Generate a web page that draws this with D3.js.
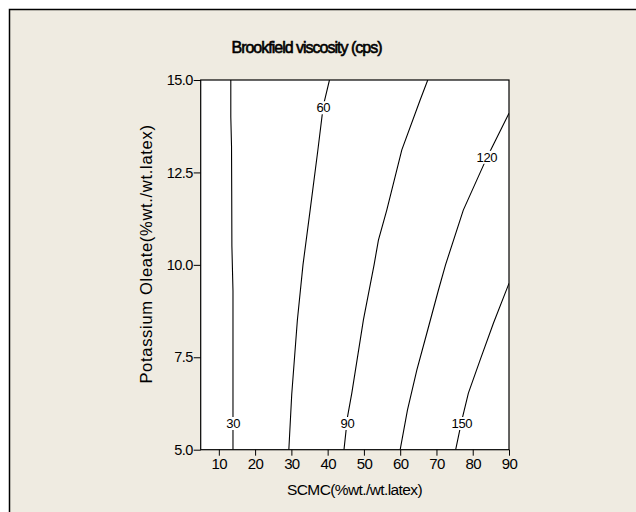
<!DOCTYPE html>
<html>
<head>
<meta charset="utf-8">
<script src="https://cdn.jsdelivr.net/npm/d3@7"></script>
<style>
  html, body { margin: 0; padding: 0; background: #ffffff; }
  svg { display: block; }
  text { font-family: Arial, "Liberation Sans", sans-serif; fill: #000; }
</style>
</head>
<body>
<svg id="chart" width="636" height="512"></svg>
<script>
// ---- data ----
const chartTitle = "Brookfield viscosity (cps)";
const xTitle = "SCMC(%wt./wt.latex)";
const yTitle = "Potassium Oleate(%wt./wt.latex)";
const xDomain = [5, 90];
const yDomain = [5, 15];
const xTicks = [10, 20, 30, 40, 50, 60, 70, 80, 90];
const yTicks = [5, 7.5, 10, 12.5, 15];

const contourLevels = [30, 60, 90, 120, 150];
// contour polylines: [SCMC, Potassium Oleate]
const contour30 = [[13.3,15],[13.3,14.0],[13.5,13.2],[13.55,12],[13.6,10.5],[13.9,9.3],[13.9,7],[13.9,5]];
const contour60 = [[40.5,15],[38.8,14.3],[37.3,13.1],[35.2,11.5],[33.2,10.0],[31.65,8.5],[30.1,6.5],[29.3,5]];
const contour90 = [[67.6,15],[65.5,14.46],[60.45,13.11],[56.3,11.48],[54.0,10.67],[52.8,10.0],[49.86,8.51],[46.66,6.53],[45.5,5.9],[44.5,5]];
const contour120 = [[90,14.1],[83.9,12.9],[77.4,11.48],[72.5,10.0],[70.55,9.32],[67.34,8.15],[64.6,7.16],[62.0,6.07],[60,5]];
const contour150 = [[90,9.5],[85.7,8.42],[82.05,7.43],[78.8,6.53],[77,5.8],[75.3,5]];
const contourLines = [contour30, contour60, contour90, contour120, contour150];
// label anchor positions [SCMC, Potassium Oleate]
const labelPositions = [[13.95,5.71],[38.8,14.25],[45.45,5.71],[83.9,12.91],[77.0,5.71]];

// ---- layout ----
const svg = d3.select("#chart");
const W = 636, H = 512;
const plot = { left: 200.7, right: 509, top: 80, bottom: 449.7 };

// background panel with border (top/left)
svg.append("rect").attr("x", 0).attr("y", 0).attr("width", W).attr("height", H).attr("fill", "#ffffff");
svg.append("rect").attr("x", 9.5).attr("y", 9.5).attr("width", W).attr("height", H).attr("fill", "#efebe1");
svg.append("path").attr("d", `M9.5,${H} V9.5 H${W}`).attr("fill", "none").attr("stroke", "#000").attr("stroke-width", 1.5);

const x = d3.scaleLinear().domain(xDomain).range([plot.left, plot.right]);
const y = d3.scaleLinear().domain(yDomain).range([plot.bottom, plot.top]);

// plot area
svg.append("rect")
  .attr("x", plot.left).attr("y", plot.top)
  .attr("width", plot.right - plot.left).attr("height", plot.bottom - plot.top)
  .attr("fill", "#ffffff");

// axes
const xAxis = svg.append("g")
  .attr("transform", `translate(0,${plot.bottom})`)
  .call(d3.axisBottom(x).tickValues(xTicks).tickSize(6).tickPadding(3).tickFormat(d3.format("d")));
xAxis.select(".domain").remove();
xAxis.selectAll("line").attr("stroke", "#000");
xAxis.selectAll("text").attr("font-size", 15).attr("font-family", "Arial, 'Liberation Sans', sans-serif").attr("letter-spacing", -0.6);

const yAxis = svg.append("g")
  .attr("transform", `translate(${plot.left},0)`)
  .call(d3.axisLeft(y).tickValues(yTicks).tickSize(7).tickPadding(1).tickFormat(d3.format(".1f")));
yAxis.select(".domain").remove();
yAxis.selectAll("line").attr("stroke", "#000");
yAxis.selectAll("text").attr("font-size", 14.5).attr("font-family", "Arial, 'Liberation Sans', sans-serif").attr("letter-spacing", -0.6);

// contour lines
const line = d3.line().x(d => x(d[0])).y(d => y(d[1]));
const clipId = "plotclip";
svg.append("clipPath").attr("id", clipId).append("rect")
  .attr("x", plot.left).attr("y", plot.top)
  .attr("width", plot.right - plot.left).attr("height", plot.bottom - plot.top);

const gLines = svg.append("g").attr("clip-path", `url(#${clipId})`);
gLines.selectAll("path").data(contourLines).join("path")
  .attr("d", line)
  .attr("fill", "none")
  .attr("stroke", "#000")
  .attr("stroke-width", 1.1);

// contour labels with white knockout
const gLab = svg.append("g");
contourLevels.forEach((lev, i) => {
  const p = labelPositions[i];
  const t = gLab.append("text")
    .attr("x", x(p[0])).attr("y", y(p[1]))
    .attr("text-anchor", "middle").attr("dy", "0.35em")
    .attr("font-size", 13).attr("letter-spacing", -0.4)
    .text(lev);
  const bb = t.node().getBBox();
  gLab.insert("rect", "text")
    .attr("x", bb.x - 1).attr("y", bb.y + 1)
    .attr("width", bb.width + 2).attr("height", bb.height - 2)
    .attr("fill", "#ffffff");
});
gLab.selectAll("text").raise();

// plot frame
svg.append("rect")
  .attr("x", plot.left).attr("y", plot.top)
  .attr("width", plot.right - plot.left).attr("height", plot.bottom - plot.top)
  .attr("fill", "none").attr("stroke", "#000").attr("stroke-width", 1.2);

// titles
svg.append("text")
  .attr("x", 306.5).attr("y", 53)
  .attr("text-anchor", "middle")
  .attr("font-size", 16).attr("letter-spacing", -1)
  .attr("stroke", "#000").attr("stroke-width", 0.6)
  .text(chartTitle);

svg.append("text")
  .attr("x", 354.5).attr("y", 495)
  .attr("text-anchor", "middle")
  .attr("font-size", 15.5).attr("letter-spacing", -0.6)
  .text(xTitle);

svg.append("text")
  .attr("transform", `translate(152,254) rotate(-90)`)
  .attr("text-anchor", "middle")
  .attr("font-size", 16.5).attr("letter-spacing", 0.7)
  .text(yTitle);
</script>
</body>
</html>
